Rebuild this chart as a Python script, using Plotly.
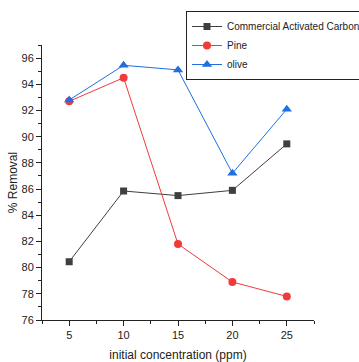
import plotly.graph_objects as go

conc = [5, 10, 15, 20, 25]
carbon = [80.45, 85.85, 85.5, 85.9, 89.45]
pine = [92.7, 94.5, 81.8, 78.9, 77.8]
olive = [92.8, 95.45, 95.1, 87.2, 92.1]

fig = go.Figure()
fig.add_trace(go.Scatter(x=conc, y=carbon, name="Commercial Activated Carbon", mode="lines+markers",
                         line=dict(color="#3f3f3f", width=1), marker=dict(symbol="square", size=7, color="#3f3f3f")))
fig.add_trace(go.Scatter(x=conc, y=pine, name="Pine", mode="lines+markers",
                         line=dict(color="#f23a3a", width=1), marker=dict(symbol="circle", size=8, color="#f23a3a")))
fig.add_trace(go.Scatter(x=conc, y=olive, name="olive", mode="lines+markers",
                         line=dict(color="#1f6fe0", width=1), marker=dict(symbol="triangle-up", size=9, color="#1f6fe0")))

axis_common = dict(showgrid=False, zeroline=False, showline=True, linecolor="#222", linewidth=1,
                   ticks="outside", ticklen=5, tickcolor="#222", tickfont=dict(size=11, color="#222"))
fig.update_xaxes(range=[2.5, 27.5], tickvals=conc, title=dict(text="initial concentration (ppm)", font=dict(size=12, color="#222"), standoff=12),
                 minor=dict(ticks="outside", ticklen=3, dtick=2.5, tick0=2.5, tickcolor="#222"), **axis_common)
fig.update_yaxes(range=[76, 97], dtick=2, title=dict(text="% Removal", font=dict(size=12, color="#222"), standoff=1),
                 minor=dict(ticks="outside", ticklen=3, dtick=1, tickcolor="#222"), **axis_common)

fig.update_layout(
    width=359, height=362, margin=dict(l=42, r=45, t=45, b=42, autoexpand=False),
    plot_bgcolor="white", paper_bgcolor="white",
    font=dict(family="Liberation Sans, Arial", size=11, color="#222"),
    legend=dict(x=186/359, y=1-11/362, xref="container", yref="container", xanchor="left", yanchor="top",
                bordercolor="#222", borderwidth=1, bgcolor="white", font=dict(size=10),
                tracegroupgap=0, itemwidth=30),
    showlegend=True,
)
fig.write_html("out.html")
